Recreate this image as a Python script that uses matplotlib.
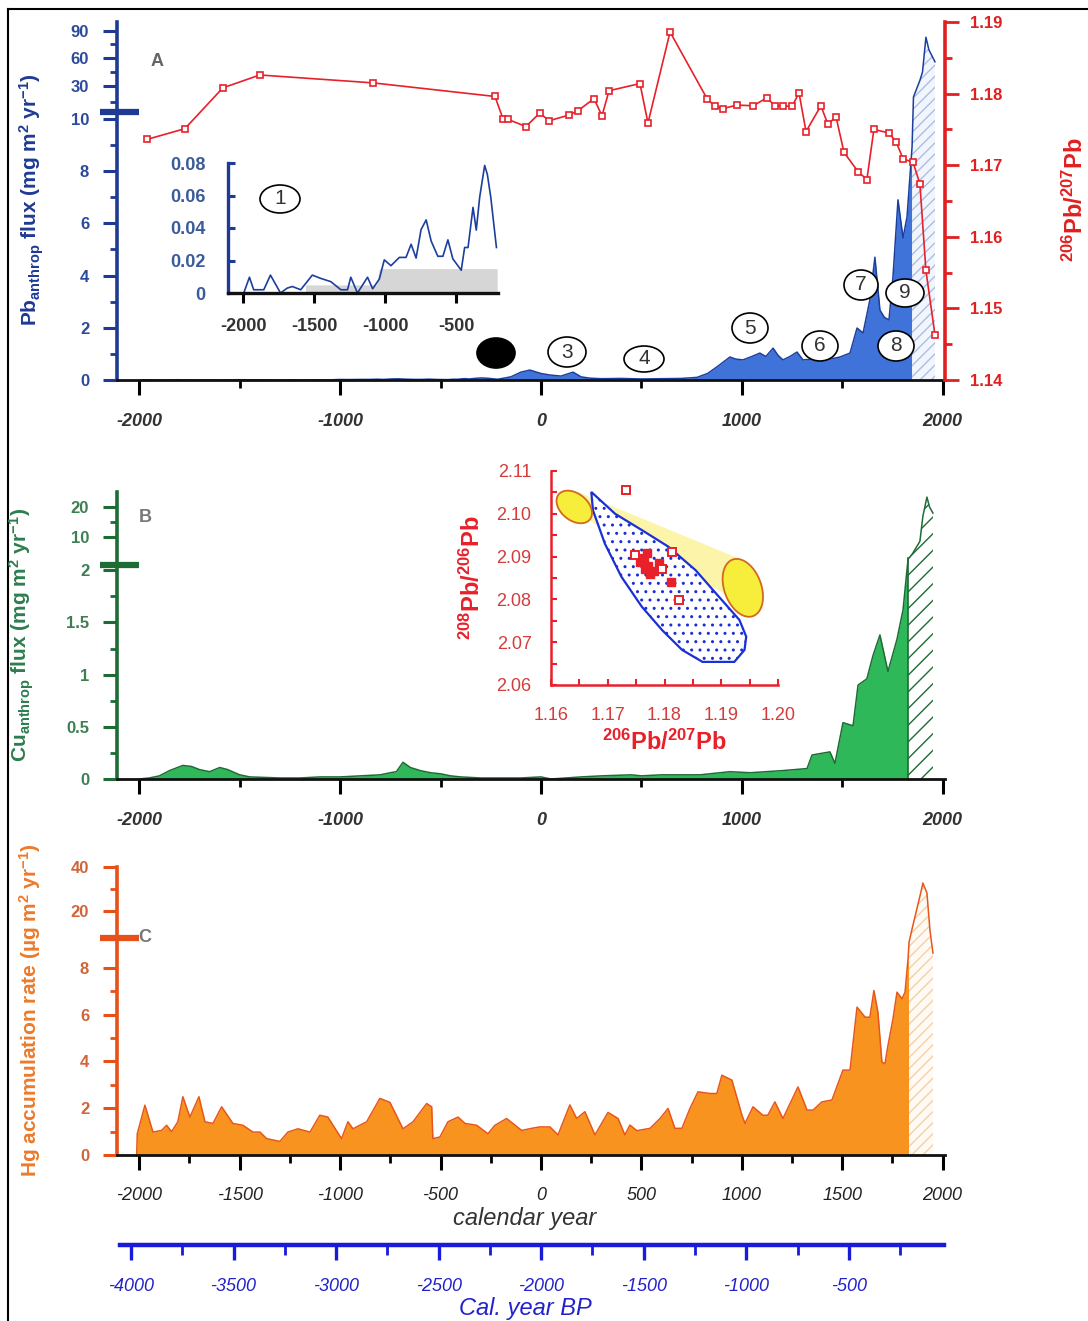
import numpy as np
import matplotlib.pyplot as plt
import matplotlib.transforms as mtrans
from matplotlib.patches import Ellipse, Polygon
from matplotlib.lines import Line2D
from matplotlib.ticker import FixedLocator

plt.rcParams['font.family'] = ['Liberation Sans', 'DejaVu Sans']
plt.rcParams['axes.unicode_minus'] = False
plt.rcParams['hatch.linewidth'] = 1.0
plt.rcParams['mathtext.default'] = 'regular'

W, H = 1088, 1321

# ---- panel A: Pb anthropogenic flux (inset shows the early part of the same record)
pb_early_years = np.array([-1995, -1955, -1925, -1854, -1807, -1736, -1689, -1653, -1594, -1512,
                           -1453, -1382, -1311, -1264, -1241, -1194, -1123, -1087, -1040, -1005,
                           -958, -899, -852, -816, -781, -746, -710, -675, -628, -592,
                           -557, -522, -463, -439, -415, -380, -357, -333, -298, -279, -255, -215])
pb_early_vals = np.array([0.0, 0.0097, 0.002, 0.002, 0.011, 0.0, 0.003, 0.004, 0.002, 0.011,
                          0.009, 0.007, 0.002, 0.002, 0.0097, 0.0, 0.0097, 0.0026, 0.0086, 0.0204,
                          0.0168, 0.0219, 0.0219, 0.030, 0.0215, 0.039, 0.045, 0.032, 0.0226, 0.0226,
                          0.0327, 0.021, 0.014, 0.028, 0.028, 0.0527, 0.0387, 0.059, 0.0785, 0.073, 0.059, 0.028])
pb_late_years = np.array([-150, -100, -55, 0, 45, 100, 160, 200, 244, 300, 400, 500, 600, 700, 777,
                          830, 876, 941, 970, 1006, 1050, 1090, 1120, 1156, 1180, 1205, 1240, 1275,
                          1305, 1350, 1390, 1440, 1489, 1539, 1574, 1604, 1638, 1663, 1688, 1710,
                          1733, 1753, 1778, 1803, 1823, 1848, 1855, 1887, 1900, 1917, 1932, 1962])
pb_late_vals = np.array([0.12, 0.3, 0.38, 0.25, 0.19, 0.15, 0.3, 0.12, 0.07, 0.05, 0.06, 0.04, 0.05,
                         0.06, 0.1, 0.25, 0.5, 0.88, 0.8, 0.77, 0.9, 1.03, 0.9, 1.22, 0.95, 0.77,
                         0.9, 1.07, 0.77, 0.8, 0.84, 0.8, 0.88, 1.03, 1.99, 1.8, 3.07, 4.7, 2.68,
                         2.4, 2.3, 3.95, 6.9, 5.44, 6.25, 8.93, 23.3, 36, 45, 83, 69, 56])
pb_years = np.concatenate([pb_early_years, pb_late_years])
pb_vals = np.concatenate([pb_early_vals, pb_late_vals])

ratio_years = [-1962, -1773, -1584, -1400, -837, -229, -189, -164, -75, -5, 40, 139, 184, 264, 304,
               339, 493, 533, 643, 827, 867, 906, 976, 1056, 1125, 1165, 1205, 1250, 1285, 1320,
               1394, 1429, 1469, 1509, 1579, 1623, 1658, 1733, 1768, 1803, 1853, 1887, 1917, 1962]
ratio_vals = [1.1736, 1.1751, 1.1808, 1.1826, 1.1815, 1.1796, 1.1765, 1.1764, 1.1754, 1.1773,
              1.1762, 1.1770, 1.1776, 1.1793, 1.1769, 1.1804, 1.1814, 1.1759, 1.1886, 1.1793,
              1.1782, 1.1779, 1.1784, 1.1783, 1.1794, 1.1783, 1.1783, 1.1782, 1.1801, 1.1747,
              1.1783, 1.1757, 1.1768, 1.1718, 1.1691, 1.1680, 1.1750, 1.1745, 1.1733, 1.1709,
              1.1704, 1.1674, 1.1553, 1.1463]

inset_bg_years = [-1560, -1060, -1040, -210]
inset_bg_vals = [0.005, 0.005, 0.015, 0.015]

# ---- panel B: Cu anthropogenic flux
cu_years = np.array([-2000, -1950, -1900, -1850, -1783, -1740, -1700, -1650, -1599, -1560, -1500,
                     -1450, -1300, -1200, -1100, -1000, -900, -800, -750, -720, -687, -650, -600,
                     -550, -500, -450, -400, -300, -100, 0, 50, 200, 300, 450, 500, 600, 792, 941,
                     1041, 1200, 1325, 1350, 1439, 1464, 1504, 1554, 1579, 1623, 1653, 1688, 1728,
                     1773, 1803, 1828, 1850, 1887, 1902, 1922, 1935, 1952])
cu_vals = np.array([0.0, 0.01, 0.03, 0.08, 0.13, 0.12, 0.09, 0.07, 0.11, 0.09, 0.04, 0.02, 0.01,
                    0.01, 0.02, 0.02, 0.03, 0.04, 0.06, 0.07, 0.16, 0.11, 0.08, 0.06, 0.05, 0.03,
                    0.02, 0.01, 0.01, 0.02, 0.0, 0.02, 0.03, 0.04, 0.03, 0.04, 0.04, 0.07, 0.06,
                    0.08, 0.1, 0.23, 0.26, 0.15, 0.54, 0.51, 0.9, 0.96, 1.18, 1.38, 1.03, 1.34,
                    1.62, 4.7, 6.0, 9.0, 17.0, 23.3, 20.0, 18.0])

# inset: 208Pb/206Pb vs 206Pb/207Pb
iso_open_x = [1.1733, 1.1748, 1.1796, 1.1813, 1.1825]
iso_open_y = [2.1056, 2.0903, 2.0872, 2.0911, 2.0798]
iso_fill_x = [1.1769, 1.1757, 1.1766, 1.1775, 1.1790, 1.1812, 1.1763, 1.1771, 1.1782, 1.1760]
iso_fill_y = [2.0909, 2.0888, 2.0872, 2.0860, 2.0884, 2.0841, 2.0896, 2.0878, 2.0866, 2.0893]
field_x = [1.1671, 1.1713, 1.1760, 1.1807, 1.1855, 1.1896, 1.1932, 1.1944, 1.1941, 1.1923,
           1.1867, 1.1831, 1.1796, 1.1760, 1.1724, 1.1695, 1.1674]
field_y = [2.1051, 2.1000, 2.0962, 2.0923, 2.0868, 2.0806, 2.0752, 2.0713, 2.0682, 2.0654,
           2.0654, 2.0682, 2.0728, 2.0783, 2.0853, 2.0930, 2.1008]
band_x = [1.1647, 1.1932, 1.1961, 1.1671]
band_y = [2.1051, 2.0895, 2.0775, 2.0981]
ell_small = dict(c=(1.1641, 2.1016), u=(0.00273, -0.00296), v=(-0.00152, -0.0024))
ell_big = dict(c=(1.1938, 2.0827), u=(0.00178, -0.00661), v=(-0.00308, -0.00142))

# ---- panel C: Hg accumulation rate
hg_years = np.array([-2013, -2010, -1972, -1932, -1889, -1864, -1839, -1808, -1783, -1748, -1703,
                     -1673, -1633, -1590, -1534, -1484, -1434, -1399, -1366, -1300, -1260, -1210,
                     -1150, -1101, -1061, -993, -961, -936, -868, -802, -752, -687, -637, -569,
                     -544, -538, -503, -463, -413, -378, -320, -264, -229, -171, -96, -40, -5, 45,
                     85, 144, 178, 219, 269, 334, 384, 418, 443, 478, 543, 593, 633, 667, 702, 742,
                     782, 841, 876, 901, 951, 1001, 1016, 1056, 1105, 1130, 1165, 1205, 1280, 1325,
                     1355, 1399, 1449, 1504, 1539, 1574, 1614, 1638, 1658, 1678, 1698, 1713, 1728,
                     1753, 1773, 1798, 1813, 1828, 1833, 1848, 1872, 1892, 1902, 1922, 1937, 1952])
hg_vals = np.array([0, 0.91, 2.13, 0.98, 1.05, 1.27, 1.0, 1.42, 2.49, 1.62, 2.49, 1.42, 1.35, 2.06,
                    1.35, 1.27, 0.98, 0.98, 0.70, 0.58, 0.98, 1.12, 0.98, 1.70, 1.62, 0.70, 1.42,
                    1.12, 1.42, 2.42, 2.25, 1.12, 1.42, 2.2, 2.06, 0.70, 0.77, 1.42, 1.62, 1.35,
                    1.27, 0.91, 1.27, 1.56, 1.05, 1.15, 1.2, 1.2, 0.86, 2.14, 1.56, 1.85, 0.86,
                    1.82, 1.56, 0.86, 1.28, 1.04, 1.14, 1.56, 1.99, 1.14, 1.14, 1.99, 2.70, 2.63,
                    2.63, 3.41, 3.20, 1.70, 1.35, 2.06, 1.70, 1.70, 2.27, 1.56, 2.91, 1.92, 1.92,
                    2.27, 2.35, 3.63, 3.63, 6.32, 5.89, 5.89, 7.03, 6.1, 3.97, 3.9, 4.68, 5.82,
                    6.96, 6.68, 6.96, 8.38, 9.77, 14.1, 21, 28.6, 32.7, 28.2, 13.7, 8.63])

year_major = [-2000, -1000, 0, 1000, 2000]
year_labels = ['-2000', '-1000', '0', '1000', '2000']
year_major_c = [-2000, -1500, -1000, -500, 0, 500, 1000, 1500, 2000]
bp_major = [-4000, -3500, -3000, -2500, -2000, -1500, -1000, -500]

fig = plt.figure(figsize=(W / 100, H / 100), dpi=100)


def add_ax(x0, y0, x1, y1):
    return fig.add_axes([x0 / W, 1 - y1 / H, (x1 - x0) / W, (y1 - y0) / H])


def ftext(x, y, s, **kw):
    return fig.text(x / W, 1 - y / H, s, **kw)


def broken(ax, vals, pos):
    vals = np.asarray(vals, float)
    pos = np.asarray(pos, float)
    ax.set_yscale('function', functions=(lambda v: np.interp(v, vals, pos),
                                         lambda p: np.interp(p, pos, vals)))


def year_axis(ax, major, minor, labels, pad, style):
    ax.set_xlim(-2111, 2012)
    ax.xaxis.set_major_locator(FixedLocator(major))
    ax.xaxis.set_minor_locator(FixedLocator(minor))
    ax.set_xticklabels(labels, **style)
    ax.tick_params(axis='x', which='major', direction='out', length=11, width=2.2,
                   color='k', pad=pad)
    ax.tick_params(axis='x', which='minor', direction='out', length=6, width=2, color='k')
    for s in ['top', 'right']:
        ax.spines[s].set_visible(False)
    ax.spines['bottom'].set_color('#111111')
    ax.spines['bottom'].set_linewidth(2)
    ax.set_facecolor('none')


def left_axis(ax, ticks, minor, color, labelcolor):
    ax.yaxis.set_major_locator(FixedLocator(ticks))
    ax.yaxis.set_minor_locator(FixedLocator(minor))
    ax.set_yticklabels([('%g' % t) for t in ticks], fontsize=12, fontweight='bold', color=labelcolor)
    ax.tick_params(axis='y', which='major', direction='out', length=10, width=2.2, color=color, pad=10)
    ax.tick_params(axis='y', which='minor', direction='out', length=5, width=2, color=color)
    ax.spines['left'].set_color(color)
    ax.spines['left'].set_linewidth(2.6)


def break_mark(ax, v, color):
    tr = mtrans.blended_transform_factory(ax.transAxes, ax.transData)
    ax.plot([-0.021, 0.026], [v, v], transform=tr, color=color, lw=4.5, clip_on=False,
            solid_capstyle='butt', zorder=5)


xstyle_ab = dict(fontsize=13, fontweight='bold', style='italic', color='#333333')

# ================= panel A =================
axA = add_ax(117, 22, 945, 380)
broken(axA, [0, 10, 30, 60, 90, 100], [0, 10, 11.26, 12.33, 13.37, 13.71])
axA.set_ylim(0, 100)
axA.fill_between(pb_years, 0, pb_vals, where=pb_years <= 1848, color='#3f73d9', lw=0)
axA.fill_between(pb_years, 0, pb_vals, where=pb_years >= 1848, facecolor='#f2f6fc',
                 edgecolor='#a9bfe6', hatch='///', lw=0)
axA.plot(pb_years, pb_vals, color='#1c3f9e', lw=1.1)
year_axis(axA, year_major, [-1500, -500, 500, 1500], year_labels, 13, xstyle_ab)
left_axis(axA, [0, 2, 4, 6, 8, 10, 30, 60, 90], [1, 3, 5, 7, 9, 20, 45, 75], '#1f3a93', '#2b4a9c')
break_mark(axA, 14, '#1f3a93')

axR = axA.twinx()
axR.set_ylim(1.14, 1.19)
axR.plot(ratio_years, ratio_vals, color='#e8202a', lw=1.2, marker='s', ms=5,
         mfc='white', mec='#e8202a', mew=1.2)
axR.yaxis.set_major_locator(FixedLocator([1.14, 1.15, 1.16, 1.17, 1.18, 1.19]))
axR.yaxis.set_minor_locator(FixedLocator([1.145, 1.155, 1.165, 1.175, 1.185]))
axR.set_yticklabels(['1.14', '1.15', '1.16', '1.17', '1.18', '1.19'], fontsize=12,
                    fontweight='bold', color='#e02020')
axR.tick_params(axis='y', which='major', direction='out', length=10, width=2, color='#e02020', pad=8)
axR.tick_params(axis='y', which='minor', direction='out', length=5, width=2, color='#e02020')
for s in ['top', 'left', 'bottom']:
    axR.spines[s].set_visible(False)
axR.spines['right'].set_color('#e02020')
axR.spines['right'].set_linewidth(2.6)

# inset 1
axI = add_ax(228, 163, 498, 293)
axI.set_facecolor('none')
axI.fill_between(inset_bg_years, 0, inset_bg_vals, color='#d6d6d6', lw=0)
axI.plot(pb_early_years, pb_early_vals, color='#1c3f9e', lw=1.2)
axI.set_xlim(-2106, -204)
axI.set_ylim(0, 0.08)
axI.xaxis.set_major_locator(FixedLocator([-2000, -1500, -1000, -500]))
axI.set_xticklabels(['-2000', '-1500', '-1000', '-500'], fontsize=13, fontweight='bold',
                    color='#333333')
axI.yaxis.set_major_locator(FixedLocator([0, 0.02, 0.04, 0.06, 0.08]))
axI.set_yticklabels(['0', '0.02', '0.04', '0.06', '0.08'], fontsize=13, fontweight='bold',
                    color='#3b5b9a')
axI.tick_params(axis='x', direction='out', length=7, width=2.2, color='k', pad=11)
axI.tick_params(axis='y', direction='in', length=5, width=2.2, color='#1f3a93', pad=16)
for s in ['top', 'right']:
    axI.spines[s].set_visible(False)
axI.spines['left'].set_color('#1f3a93')
axI.spines['left'].set_linewidth(2.4)
axI.spines['bottom'].set_color('#111111')
axI.spines['bottom'].set_linewidth(2.4)

# ================= panel B =================
axB = add_ax(117, 492, 945, 779)
broken(axB, [0, 2, 10, 20, 25], [0, 2, 2.317, 2.606, 2.75])
axB.set_ylim(0, 25)
axB.fill_between(cu_years, 0, cu_vals, where=cu_years <= 1828, color='#2fb85a', lw=0)
axB.fill_between(cu_years, 0, cu_vals, where=cu_years >= 1828, facecolor='white',
                 edgecolor='#1d6b35', hatch='//', lw=0)
axB.plot(cu_years, cu_vals, color='#1d6b35', lw=1.1)
axB.axvline(1828, ymax=0.77, color='#1d6b35', lw=1.2)
year_axis(axB, year_major, [-1500, -500, 500, 1500], year_labels, 13, xstyle_ab)
left_axis(axB, [0, 0.5, 1, 1.5, 2, 10, 20], [0.25, 0.75, 1.25, 1.75, 15], '#1d6b35', '#3c7f52')
break_mark(axB, 3.2, '#1d6b35')

# isotope inset
axS = add_ax(551, 471, 778, 685)
axS.set_facecolor('none')
axS.add_patch(Polygon(np.c_[band_x, band_y], closed=True, facecolor='#fbf39a', edgecolor='none',
                      alpha=0.85, zorder=1))
axS.add_patch(Polygon(np.c_[field_x, field_y], closed=True, facecolor='white', edgecolor='#1a2fd6',
                      hatch='..', lw=1.6, zorder=2))
tt = np.linspace(0, 2 * np.pi, 80)
for e in (ell_small, ell_big):
    ex = e['c'][0] + e['u'][0] * np.cos(tt) + e['v'][0] * np.sin(tt)
    ey = e['c'][1] + e['u'][1] * np.cos(tt) + e['v'][1] * np.sin(tt)
    axS.add_patch(Polygon(np.c_[ex, ey], closed=True, facecolor='#f7ee3c', edgecolor='#d2691e',
                          lw=1.3, zorder=3))
axS.plot(iso_fill_x, iso_fill_y, 's', color='#e8202a', ms=6, zorder=4)
axS.plot(iso_open_x, iso_open_y, 's', mfc='white', mec='#e8202a', mew=1.4, ms=6, zorder=5)
axS.set_xlim(1.16, 1.20)
axS.set_ylim(2.06, 2.11)
axS.xaxis.set_major_locator(FixedLocator([1.16, 1.17, 1.18, 1.19, 1.20]))
axS.xaxis.set_minor_locator(FixedLocator([1.165, 1.175, 1.185, 1.195]))
axS.yaxis.set_major_locator(FixedLocator([2.06, 2.07, 2.08, 2.09, 2.10, 2.11]))
axS.yaxis.set_minor_locator(FixedLocator([2.065, 2.075, 2.085, 2.095, 2.105]))
axS.set_xticklabels(['1.16', '1.17', '1.18', '1.19', '1.20'], fontsize=13, color='#d43c3c')
axS.set_yticklabels(['2.06', '2.07', '2.08', '2.09', '2.10', '2.11'], fontsize=13, color='#d43c3c')
axS.tick_params(which='both', direction='in', length=4, width=1.5, color='#e8202a')
axS.tick_params(axis='x', which='major', pad=16)
axS.tick_params(axis='y', which='major', pad=14)
for s in ['top', 'right']:
    axS.spines[s].set_visible(False)
for s in ['left', 'bottom']:
    axS.spines[s].set_color('#e8202a')
    axS.spines[s].set_linewidth(1.8)
axS.set_xlabel('$^{206}$Pb/$^{207}$Pb', fontsize=17, fontweight='bold', color='#e8202a', labelpad=4)
axS.set_ylabel('$^{208}$Pb/$^{206}$Pb', fontsize=17, fontweight='bold', color='#e8202a', labelpad=8)

# ================= panel C =================
axC = add_ax(117, 867, 945, 1155)
broken(axC, [0, 9, 20, 40], [0, 9, 10.43, 12.31])
axC.set_ylim(0, 40)
axC.fill_between(hg_years, 0, hg_vals, where=hg_years <= 1833, color='#f7931e', lw=0)
axC.fill_between(hg_years, 0, hg_vals, where=hg_years >= 1833, facecolor='#fffaf4',
                 edgecolor='#f5cfa8', hatch='///', lw=0)
axC.plot(hg_years, hg_vals, color='#e8561a', lw=1.1)
year_axis(axC, year_major_c, [-1750, -1250, -750, -250, 250, 750, 1250, 1750],
          ['-2000', '-1500', '-1000', '-500', '0', '500', '1000', '1500', '2000'], 12,
          dict(fontsize=13, style='italic', color='#222222'))
left_axis(axC, [0, 2, 4, 6, 8, 20, 40], [1, 3, 5, 7, 30], '#e8501a', '#d0653a')
break_mark(axC, 11, '#e8501a')

# BP axis
axBP = add_ax(120, 1235, 944, 1245)
axBP.set_facecolor('none')
axBP.set_xlim(-4053.6, -36)
axBP.set_yticks([])
for s in ['top', 'left', 'right']:
    axBP.spines[s].set_visible(False)
axBP.spines['bottom'].set_color('#1a1adb')
axBP.spines['bottom'].set_linewidth(3.2)
axBP.xaxis.set_major_locator(FixedLocator(bp_major))
axBP.xaxis.set_minor_locator(FixedLocator([v + 250 for v in bp_major]))
axBP.set_xticklabels([str(v) for v in bp_major], fontsize=13, style='italic', color='#2222c8')
axBP.tick_params(axis='x', which='major', direction='out', length=11, width=2.4,
                 color='#1a1adb', pad=13)
axBP.tick_params(axis='x', which='minor', direction='out', length=7, width=2, color='#1a1adb')

# ---- texts
ftext(525, 1218, 'calendar year', fontsize=17, style='italic', color='#333333', ha='center', va='center')
ftext(525, 1308, 'Cal. year BP', fontsize=17, style='italic', color='#2222c8', ha='center', va='center')
ftext(32, 200, 'Pb$_{anthrop}$ flux (mg m$^{2}$ yr$^{-1}$)', fontsize=15, fontweight='bold',
      color='#1f3a93', rotation=90, ha='center', va='center')
ftext(22, 635, 'Cu$_{anthrop}$ flux (mg m$^{2}$ yr$^{-1}$)', fontsize=15, fontweight='bold',
      color='#2e7d4f', rotation=90, ha='center', va='center')
ftext(30, 1010, 'Hg accumulation rate (\u00b5g m$^{2}$ yr$^{-1}$)', fontsize=15, fontweight='bold',
      color='#ec7a2a', rotation=90, ha='center', va='center')
ftext(1075, 200, '$^{206}$Pb/$^{207}$Pb', fontsize=17, fontweight='bold', color='#e02020',
      rotation=90, ha='center', va='center')
ftext(157, 62, 'A', fontsize=13, fontweight='bold', color='#666666', ha='center', va='center')
ftext(145, 517, 'B', fontsize=13, fontweight='bold', color='#777777', ha='center', va='center')
ftext(145, 937, 'C', fontsize=13, fontweight='bold', color='#777777', ha='center', va='center')

# circled event labels
events = [('1', 280, 199, 40, 28), ('', 496, 353, 38, 30), ('3', 567, 352, 38, 30),
          ('4', 644, 359, 40, 26), ('5', 750, 328, 36, 30), ('6', 820, 346, 36, 30),
          ('7', 861, 285, 34, 30), ('8', 896, 346, 36, 30), ('9', 905, 293, 38, 28)]
for lab, x, y, w, h in events:
    fc = 'black' if lab == '' else 'white'
    fig.add_artist(Ellipse((x / W, 1 - y / H), w / W, h / H, transform=fig.transFigure,
                           facecolor=fc, edgecolor='black', lw=1.2, zorder=4))
    if lab:
        ftext(x, y, lab, fontsize=15, color='#333333', ha='center', va='center', zorder=5)

# frame
fig.add_artist(Line2D([8 / W, 8 / W], [0, 1 - 9 / H], color='black', lw=1.5, transform=fig.transFigure))
fig.add_artist(Line2D([8 / W, 1], [1 - 9 / H, 1 - 9 / H], color='black', lw=1.5, transform=fig.transFigure))

fig.savefig('out.png', dpi=100)
